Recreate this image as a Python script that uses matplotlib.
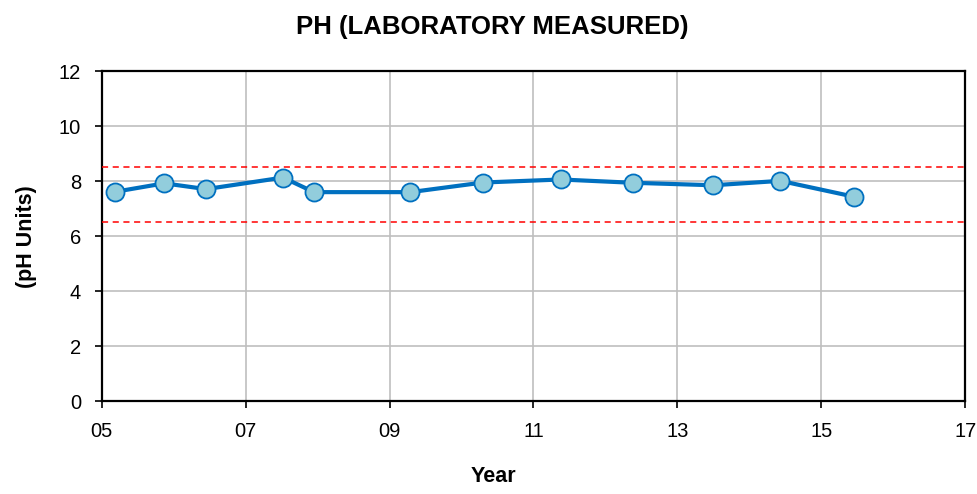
import matplotlib
matplotlib.use('Agg')
import matplotlib.pyplot as plt

# --- Data ---
sample_years = [2005.18, 2005.87, 2006.45, 2007.52, 2007.95, 2009.29,
                2010.30, 2011.38, 2012.38, 2013.50, 2014.43, 2015.46]
ph_values = [7.61, 7.92, 7.71, 8.13, 7.60, 7.60,
             7.95, 8.06, 7.94, 7.85, 8.01, 7.43]
upper_limit = 8.5
lower_limit = 6.5
year_ticks = [2005, 2007, 2009, 2011, 2013, 2015, 2017]
year_labels = ['05', '07', '09', '11', '13', '15', '17']

# --- Style ---
LINE_COLOR = '#0070C0'
MARKER_FACE = '#92CDDC'
GRID_COLOR = '#BFBFBF'
plt.rcParams['font.family'] = ['Liberation Sans', 'DejaVu Sans']

fig = plt.figure(figsize=(9.78, 4.94), dpi=100)
ax = fig.add_axes([0.104, 0.188, 0.883, 0.668])

ax.plot(sample_years, ph_values, color=LINE_COLOR, linewidth=3, marker='o',
        markersize=13, markerfacecolor=MARKER_FACE, markeredgecolor=LINE_COLOR,
        markeredgewidth=1.3, zorder=4)
ax.axhline(upper_limit, color='#FF0000', linestyle=(0, (4, 3)), linewidth=1.1, zorder=3)
ax.axhline(lower_limit, color='#FF0000', linestyle=(0, (4, 3)), linewidth=1.1, zorder=3)

ax.set_xlim(2005, 2017)
ax.set_ylim(0, 12)
ax.set_xticks(year_ticks)
ax.set_xticklabels(year_labels)
ax.set_yticks(range(0, 13, 2))

ax.grid(True, color=GRID_COLOR, linewidth=1.2)
ax.set_axisbelow(True)
for side in ['left', 'right', 'top', 'bottom']:
    ax.spines[side].set_color('black')
    ax.spines[side].set_linewidth(1.6)

ax.tick_params(axis='both', direction='out', length=5, width=1.2,
               labelsize=14.5, colors='black')
ax.tick_params(axis='x', pad=10)
ax.tick_params(axis='y', pad=10)

# Axis titles and chart heading
fig.text(0.505, 0.035, 'Year', fontsize=15.5, fontweight='bold',
         ha='center', va='center')
fig.text(0.027, 0.52, '(pH Units)', fontsize=15.5, fontweight='bold',
         rotation=90, ha='center', va='center')
fig.text(0.5036, 0.945, 'PH (LABORATORY MEASURED)', fontsize=18.5,
         fontweight='bold', ha='center', va='center')

fig.savefig('out.png', dpi=100)
